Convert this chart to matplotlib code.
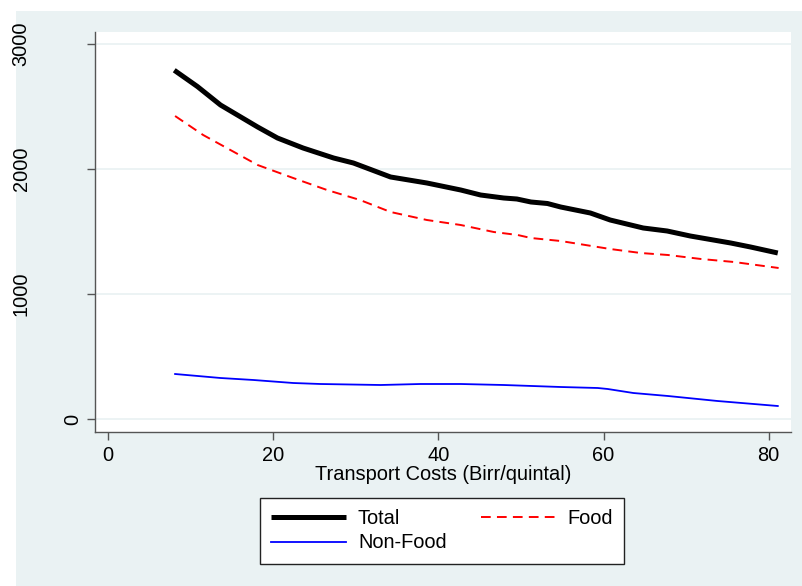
import matplotlib
matplotlib.use('Agg')
import matplotlib.pyplot as plt
from matplotlib.patches import Rectangle

plt.rcParams['font.family'] = ['Liberation Sans', 'DejaVu Sans']

# values
total_x = [8.0, 10.8, 13.6, 18.1, 20.5, 23.6, 27.3, 29.7, 34.2, 38.6, 42.7, 45.1, 47.9,
           49.5, 51.2, 53.2, 54.8, 58.4, 60.8, 64.8, 67.7, 70.5, 75.4, 77.8, 81.1]
total_y = [2790, 2660, 2512, 2336, 2248, 2168, 2088, 2048, 1936, 1888, 1832, 1792, 1768,
           1760, 1736, 1724, 1696, 1648, 1592, 1528, 1504, 1464, 1408, 1376, 1328]

food_x = [8.1, 11.5, 14.8, 18.1, 22.4, 26.5, 30.5, 34.2, 38.6, 42.7, 46.7, 49.6,
          51.2, 54.8, 60.8, 64.5, 67.8, 71.8, 75.8, 81.2]
food_y = [2424, 2272, 2152, 2032, 1928, 1832, 1752, 1656, 1592, 1552, 1496, 1472,
          1448, 1424, 1360, 1328, 1312, 1280, 1256, 1208]

nonfood_x = [8.1, 13.6, 17.6, 22.4, 25.7, 33.0, 37.8, 42.7, 47.9, 54.8, 59.3, 60.5,
             63.6, 67.8, 73.8, 81.1]
nonfood_y = [360, 328, 312, 288, 280, 272, 280, 280, 272, 256, 248, 240,
             208, 184, 144, 104]

yticks = [0, 1000, 2000, 3000]
xticks = [0, 20, 40, 60, 80]

W, H = 802, 586
bg = '#EAF2F3'
fs = 14.4

fig = plt.figure(figsize=(W / 100, H / 100), dpi=100, facecolor='white')
fig.patches.append(Rectangle((16 / W, 0), 1, (H - 11) / H, transform=fig.transFigure,
                             facecolor=bg, edgecolor='none', zorder=-10))

ax = fig.add_axes([95 / W, (H - 432) / H, (791 - 95) / W, (432 - 32) / H])
ax.set_facecolor('white')

ax.plot(total_x, total_y, color='black', lw=3.6, label='Total', solid_capstyle='butt')
ax.plot(food_x, food_y, color='red', lw=1.4, dashes=(5, 3.2), label='Food')
ax.plot(nonfood_x, nonfood_y, color='blue', lw=1.3, label='Non-Food')

ax.set_xlim(-1.6, 82.7)
ax.set_ylim(-104, 3096)

for s in ['top', 'right']:
    ax.spines[s].set_visible(False)
for s in ['left', 'bottom']:
    ax.spines[s].set_color('#555555')
    ax.spines[s].set_linewidth(1.0)

ax.set_yticks(yticks)
ax.set_yticklabels([])
ax.grid(axis='y', color=bg, lw=1.3)
ax.set_axisbelow(True)
ax.tick_params(axis='both', direction='out', length=6, width=1, color='#555555')

# Stata-like rotated y labels
for v in yticks:
    dx = 22 if v == 0 else 74
    ax.annotate(str(v), xy=(0, v), xycoords=('axes fraction', 'data'),
                xytext=(-dx, 0), textcoords='offset pixels',
                rotation=90, ha='center', va='center', fontsize=fs)

ax.set_xticks(xticks)
ax.set_xticklabels([str(t) for t in xticks], fontsize=fs)
ax.tick_params(axis='x', pad=4)
ax.set_xlabel('Transport Costs (Birr/quintal)', fontsize=fs, labelpad=0)

h, l = ax.get_legend_handles_labels()
order = [0, 2, 1]
leg = fig.legend([h[i] for i in order], [l[i] for i in order], ncol=2,
                 loc='center', bbox_to_anchor=(442 / W, 1 - 530.5 / H),
                 fontsize=fs, frameon=True, fancybox=False, edgecolor='#222222',
                 facecolor='white', framealpha=1,
                 handlelength=3.75, handletextpad=0.6, columnspacing=1.7,
                 labelspacing=0.3, borderpad=0.55)
leg.get_frame().set_linewidth(1.0)

fig.savefig('out.png', dpi=100, facecolor='white')
